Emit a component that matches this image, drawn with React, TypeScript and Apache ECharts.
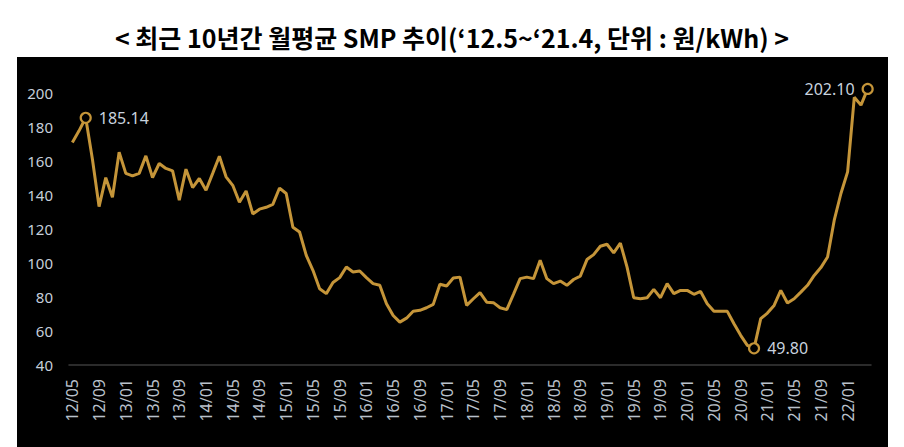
import React, { useEffect, useRef } from "react";
import * as echarts from "echarts";

const titleText = "< 최근 10년간 월평균 SMP 추이(‘12.5~‘21.4, 단위 : 원/kWh) >";

// monthly categories from 2012/05 to 2022/04
const startYear = 12;
const startMonth = 5;
const monthCount = 120;
const categories: string[] = [];
for (let k = 0; k < monthCount; k++) {
  const m0 = startMonth - 1 + k;
  const yy = startYear + Math.floor(m0 / 12);
  const mm = (m0 % 12) + 1;
  categories.push(`${String(yy).padStart(2, "0")}/${String(mm).padStart(2, "0")}`);
}

const smpValues: number[] = [
  170.7, 177.5, 185.14, 161.0, 133.0, 150.0, 138.5, 165.0, 152.5, 151.0,
  152.5, 162.8, 150.1, 158.3, 155.4, 154.0, 136.8, 155.0, 144.2, 149.5,
  142.6, 152.5, 162.6, 150.5, 145.5, 135.6, 142.2, 128.7, 131.5, 132.6,
  134.3, 143.9, 140.7, 120.9, 118.1, 104.4, 95.6, 84.8, 81.9, 88.4,
  91.3, 97.5, 94.6, 95.2, 91.3, 87.8, 86.8, 76.0, 69.1, 65.2,
  67.5, 71.6, 72.1, 73.6, 75.6, 87.4, 86.4, 91.1, 91.6, 75.0,
  78.9, 82.5, 76.9, 76.6, 73.6, 72.5, 81.5, 90.7, 91.6, 90.7,
  101.5, 90.7, 87.8, 89.3, 86.8, 90.2, 92.2, 101.9, 104.8, 109.7,
  110.9, 105.8, 111.6, 97.5, 79.5, 78.9, 79.5, 84.4, 79.5, 87.8,
  81.9, 83.8, 83.8, 81.5, 83.2, 76.0, 71.5, 71.5, 71.5, 64.2,
  57.4, 51.5, 49.8, 67.2, 70.5, 75.0, 83.8, 76.4, 78.9, 82.8,
  86.8, 92.6, 97.2, 103.4, 125.0, 140.7, 153.4, 197.2, 192.6, 202.1,
];

// highlighted points: index into smpValues and label side
const highlightIdx = [2, 102, 119];
const highlightSide = ["right", "right", "left"];

const yMin = 40;
const yMax = 200;
const yStep = 20;

const lineColor = "#C59539";
const labelColor = "#C8D2DE";

export default function App() {
  const ref = useRef<HTMLDivElement>(null);
  useEffect(() => {
    if (!ref.current) return;
    const chart = echarts.init(ref.current, null, { renderer: "svg" });
    const seriesData = smpValues.map((v, i) => {
      const h = highlightIdx.indexOf(i);
      if (h < 0) return v;
      return {
        value: v,
        symbol: "circle",
        symbolSize: 10,
        itemStyle: { color: "#000", borderColor: lineColor, borderWidth: 2.2 },
        label: {
          show: true,
          position: highlightSide[h],
          distance: 7,
          formatter: v.toFixed(2),
          color: labelColor,
          fontSize: 16,
          fontFamily: "Noto Sans",
        },
      };
    });
    chart.setOption({
      animation: false,
      backgroundColor: "#fff",
      graphic: [
        {
          type: "rect",
          z: -10,
          silent: true,
          shape: { x: 17, y: 57, width: 871, height: 390 },
          style: { fill: "#000" },
        },
      ],
      title: {
        text: titleText,
        left: "center",
        top: 19,
        textStyle: {
          fontFamily: "Noto Sans CJK KR",
          fontWeight: "bold",
          fontSize: 25,
          color: "#000",
        },
      },
      grid: { left: 69, right: 33, top: 92.5, bottom: 82, containLabel: false },
      xAxis: {
        type: "category",
        data: categories,
        boundaryGap: true,
        axisLine: { show: true, lineStyle: { color: "#3a3a3a", width: 1.5 } },
        axisTick: { show: false },
        axisLabel: {
          interval: 3,
          rotate: 90,
          margin: 14,
          color: "#B9C1CB",
          fontSize: 16,
          fontFamily: "Noto Sans",
        },
      },
      yAxis: {
        type: "value",
        min: yMin,
        max: yMax,
        interval: yStep,
        axisLine: { show: false },
        axisTick: { show: false },
        splitLine: { show: false },
        axisLabel: {
          color: "#C5CEDA",
          fontSize: 15,
          margin: 16,
          fontFamily: "Noto Sans",
        },
      },
      series: [
        {
          type: "line",
          data: seriesData,
          symbol: "circle",
          symbolSize: 0,
          showSymbol: true,
          showAllSymbol: true,
          clip: false,
          lineStyle: { color: lineColor, width: 3 },
          itemStyle: { color: lineColor },
        },
      ],
    });
    return () => chart.dispose();
  }, []);
  return (
    <div
      ref={ref}
      style={{ position: "fixed", left: 0, top: 0, width: 904, height: 447 }}
    />
  );
}
